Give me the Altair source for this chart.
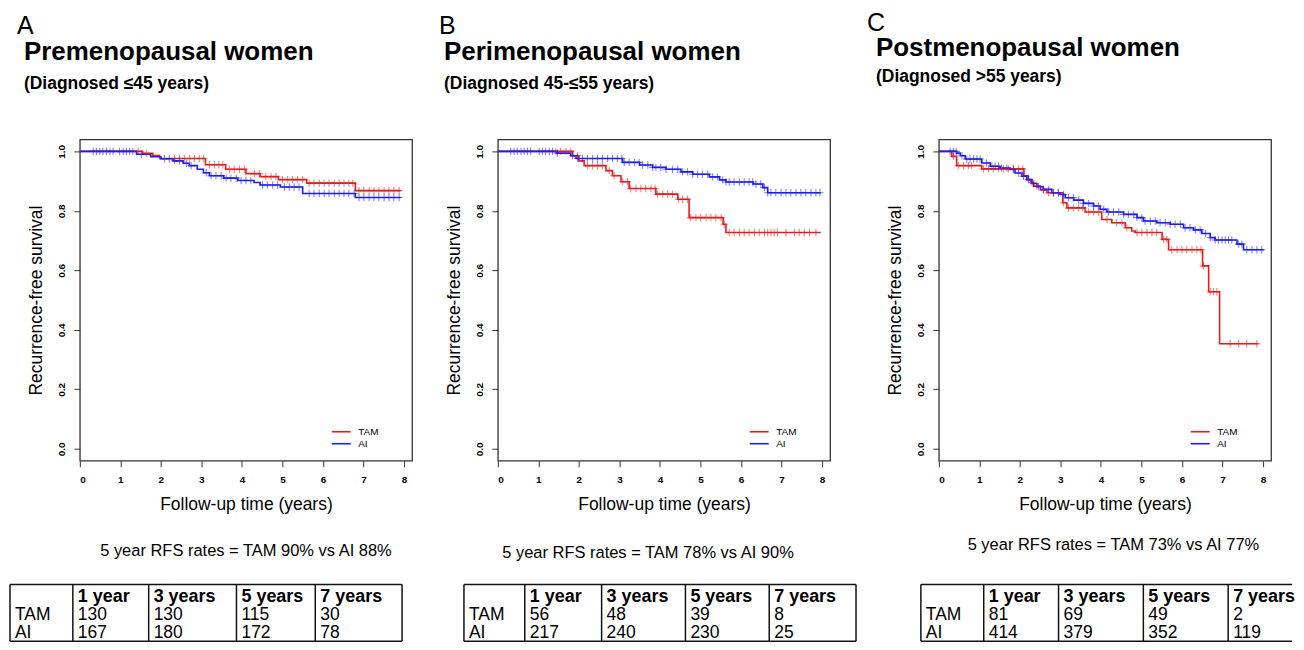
import altair as alt
import pandas as pd

FONT = "Liberation Sans"
ARMS = ["TAM", "AI"]
COLORS = ["#e41e1e", "#1e1ef2"]
CROSS = "M-1,0L1,0M0,-1L0,1"
LEGEND_LINE = "M-2,0L2,0"

# ---------------- Panel A: premenopausal ----------------
A_TAM_t = [0, 1.55, 1.8, 1.97, 3.1, 3.6, 4.1, 4.45, 4.9, 5.6, 6.8, 7.92]
A_TAM_s = [1.0, 0.993, 0.986, 0.976, 0.955, 0.94, 0.925, 0.915, 0.905, 0.893, 0.868, 0.868]
A_TAM_cens = [1.44, 1.64, 2.34, 2.46, 2.58, 2.71, 2.83, 2.95, 3.05, 3.2, 3.32, 3.43, 3.53, 3.69,
              3.81, 3.94, 4.06, 4.31, 4.43, 4.59, 4.72, 4.84, 5.0, 5.13, 5.25, 5.37, 5.5, 5.66,
              5.78, 5.91, 6.03, 6.15, 6.28, 6.4, 6.52, 6.64, 6.74, 6.89, 7.01, 7.14, 7.26, 7.38,
              7.51, 7.63, 7.75, 7.88]
A_AI_t = [0, 1.4, 1.75, 2.0, 2.3, 2.55, 2.7, 2.9, 3.05, 3.2, 3.55, 3.9, 4.3, 4.45, 4.95, 5.5, 6.8, 7.92]
A_AI_s = [1.0, 0.99, 0.982, 0.975, 0.968, 0.96, 0.952, 0.94, 0.928, 0.918, 0.91, 0.902, 0.895,
          0.887, 0.88, 0.858, 0.845, 0.845]
A_AI_cens = [0.33, 0.41, 0.49, 0.57, 0.66, 0.74, 0.82, 0.98, 1.07, 1.15, 1.23, 1.31, 1.52, 2.09,
             2.21, 2.34, 2.46, 2.63, 2.75, 3.12, 3.24, 3.36, 3.49, 3.61, 3.73, 3.86, 3.98, 4.1,
             4.22, 4.51, 4.63, 4.76, 4.88, 5.05, 5.17, 5.29, 5.41, 5.66, 5.78, 5.91, 6.03, 6.15,
             6.28, 6.4, 6.52, 6.64, 6.77, 6.89, 7.01, 7.14, 7.26, 7.38, 7.51, 7.63, 7.75, 7.88]

# ---------------- Panel B: perimenopausal ----------------
B_TAM_t = [0, 1.85, 2.0, 2.13, 2.67, 2.83, 3.04, 3.24, 3.9, 4.44, 4.72, 5.56, 5.63, 7.97]
B_TAM_s = [1.0, 0.985, 0.968, 0.952, 0.935, 0.918, 0.898, 0.875, 0.856, 0.839, 0.777, 0.755,
           0.727, 0.727]
B_TAM_cens = [1.43, 1.55, 1.68, 1.8, 1.97, 2.21, 2.34, 2.46, 2.58, 2.75, 2.87, 3.08, 3.2, 3.28,
              3.41, 3.53, 3.65, 3.78, 3.88, 3.94, 4.07, 4.19, 4.31, 4.46, 4.56, 4.68, 4.76, 4.89,
              5.01, 5.14, 5.26, 5.38, 5.51, 5.59, 5.71, 5.83, 5.96, 6.08, 6.2, 6.33, 6.45, 6.58,
              6.66, 6.74, 6.82, 6.9, 7.11, 7.32, 7.44, 7.56, 7.69, 7.85]
B_AI_t = [0, 1.45, 1.8, 1.93, 3.08, 3.5, 3.82, 4.15, 4.52, 4.81, 5.22, 5.47, 5.63, 6.3, 6.54, 6.66, 7.97]
B_AI_s = [1.0, 0.994, 0.985, 0.976, 0.963, 0.954, 0.946, 0.94, 0.931, 0.923, 0.914, 0.904, 0.897,
          0.89, 0.878, 0.861, 0.861]
B_AI_cens = [0.32, 0.4, 0.48, 0.57, 0.65, 0.73, 0.81, 1.02, 1.1, 1.18, 1.27, 1.35, 1.47, 1.84,
             1.97, 2.09, 2.21, 2.34, 2.46, 2.58, 2.71, 2.83, 2.95, 3.06, 3.12, 3.24, 3.37, 3.49,
             3.57, 3.7, 3.82, 3.9, 4.02, 4.15, 4.31, 4.44, 4.56, 4.68, 4.81, 4.93, 5.05, 5.18,
             5.3, 5.42, 5.55, 5.63, 5.71, 5.83, 5.96, 6.08, 6.2, 6.29, 6.37, 6.49, 6.58, 6.66,
             6.74, 6.86, 6.99, 7.11, 7.23, 7.36, 7.48, 7.6, 7.73, 7.85, 7.95]

# ---------------- Panel C: postmenopausal ----------------
C_TAM_t = [0, 0.32, 0.44, 1.06, 2.1, 2.21, 2.27, 2.34, 2.51, 2.67, 3.06, 3.16, 3.61, 4.02, 4.27,
           4.6, 4.76, 4.85, 5.51, 5.67, 6.51, 6.66, 6.93, 7.89]
C_TAM_s = [1.0, 0.983, 0.952, 0.941, 0.918, 0.905, 0.895, 0.883, 0.87, 0.861, 0.827, 0.81, 0.796,
           0.771, 0.76, 0.743, 0.732, 0.727, 0.704, 0.669, 0.615, 0.528, 0.353, 0.353]
C_TAM_cens = [0.36, 0.48, 0.61, 0.73, 0.81, 1.1, 1.23, 1.35, 1.47, 1.6, 1.72, 1.84, 1.97, 2.07,
              2.3, 2.42, 2.58, 2.71, 2.83, 2.95, 3.08, 3.2, 3.32, 3.45, 3.55, 3.7, 3.82, 3.94,
              4.15, 4.39, 4.52, 4.64, 4.89, 5.01, 5.14, 5.26, 5.38, 5.55, 5.63, 5.75, 5.88, 6.0,
              6.12, 6.25, 6.37, 6.47, 6.53, 6.7, 6.78, 6.86, 7.19, 7.4, 7.6, 7.85]
C_AI_t = [0, 0.44, 0.53, 0.65, 1.06, 1.27, 1.51, 1.76, 1.88, 2.05, 2.17, 2.3, 2.42, 2.58, 2.79,
          2.99, 3.12, 3.33, 3.57, 3.82, 3.98, 4.15, 4.56, 4.89, 5.05, 5.38, 5.71, 6.04, 6.29,
          6.49, 6.7, 6.82, 7.36, 7.52, 8.02]
C_AI_s = [1.0, 0.994, 0.985, 0.974, 0.961, 0.95, 0.944, 0.939, 0.927, 0.916, 0.905, 0.892, 0.881,
          0.872, 0.861, 0.855, 0.844, 0.836, 0.825, 0.816, 0.805, 0.796, 0.788, 0.777, 0.766,
          0.76, 0.755, 0.743, 0.736, 0.724, 0.71, 0.702, 0.688, 0.669, 0.669]
C_AI_cens = [0.28, 0.36, 0.43, 0.57, 0.69, 0.77, 0.86, 0.94, 1.02, 1.18, 1.31, 1.39, 1.47, 1.55,
             1.68, 1.84, 1.97, 2.09, 2.21, 2.34, 2.46, 2.58, 2.71, 2.83, 2.95, 3.08, 3.2, 3.32,
             3.45, 3.57, 3.7, 3.82, 3.94, 4.07, 4.19, 4.31, 4.44, 4.56, 4.68, 4.81, 4.89, 5.01,
             5.09, 5.22, 5.34, 5.46, 5.59, 5.71, 5.83, 5.96, 6.08, 6.2, 6.33, 6.45, 6.58, 6.7,
             6.82, 6.9, 6.99, 7.07, 7.15, 7.23, 7.4, 7.48, 7.6, 7.73, 7.85, 7.97]

# ---------------- texts and tables ----------------
LETTERS = ["A", "B", "C"]
TITLES = ["Premenopausal women", "Perimenopausal women", "Postmenopausal women"]
SUBTITLES = ["(Diagnosed \u226445 years)", "(Diagnosed 45-\u226455 years)", "(Diagnosed >55 years)"]
RFS = ["5 year RFS rates = TAM 90% vs AI 88%",
       "5 year RFS rates = TAM 78% vs AI 90%",
       "5 year RFS rates = TAM 73% vs AI 77%"]
TABLE_HEAD = ["1 year", "3 years", "5 years", "7 years"]
ROW_LABELS = ["TAM", "AI"]
A_TAM_n = [130, 130, 115, 30]
A_AI_n = [167, 180, 172, 78]
B_TAM_n = [56, 48, 39, 8]
B_AI_n = [217, 240, 230, 25]
C_TAM_n = [81, 69, 49, 2]
C_AI_n = [414, 379, 352, 119]

X_TICKS = [0, 1, 2, 3, 4, 5, 6, 7, 8]
Y_TICKS = [0.0, 0.2, 0.4, 0.6, 0.8, 1.0]


def surv_at(ts, ss, t):
    val = ss[0]
    for ti, si in zip(ts, ss):
        if ti <= t:
            val = si
    return val


def km_frames(tam_t, tam_s, tam_c, ai_t, ai_s, ai_c):
    lines, cens = [], []
    for arm, ts, ss, cs in (("TAM", tam_t, tam_s, tam_c), ("AI", ai_t, ai_s, ai_c)):
        for t, s in zip(ts, ss):
            lines.append({"t": t, "s": s, "arm": arm})
        for c in cs:
            cens.append({"t": c, "s": surv_at(ts, ss, c), "arm": arm})
    return pd.DataFrame(lines), pd.DataFrame(cens)


def km_chart(i, frames, title_dx, title_offset, sub_pad):
    line_df, cens_df = frames
    xenc = alt.X("t:Q", scale=alt.Scale(domain=[0, 8.2], nice=False, zero=False),
                 axis=alt.Axis(values=X_TICKS, format="d", labelFontWeight="bold", labelFontSize=10,
                               labelPadding=8, tickSize=6, tickColor="#333", domain=False,
                               grid=False, labelColor="black", title="Follow-up time (years)",
                               titleFontSize=17.5, titleFontWeight="normal", titlePadding=11,
                               titleColor="black"))
    yenc = alt.Y("s:Q", scale=alt.Scale(domain=[-0.04, 1.04], nice=False, zero=False),
                 axis=alt.Axis(values=Y_TICKS, format=".1f", labelAngle=270, labelAlign="center",
                               labelBaseline="bottom", labelFontWeight="bold", labelFontSize=10,
                               labelPadding=7, tickSize=6, tickColor="#333", domain=False,
                               grid=False, labelColor="black", title="Recurrence-free survival",
                               titleFontSize=17.5, titleFontWeight="normal", titlePadding=11,
                               titleColor="black"))
    legend = alt.Legend(orient="none", legendX=256, legendY=287, title=None,
                        symbolType=LEGEND_LINE, symbolSize=90, symbolStrokeWidth=1.6,
                        symbolOpacity=1, labelFontSize=10, labelOffset=11, padding=0,
                        rowPadding=1, labelColor="black")
    cenc = alt.Color("arm:N", scale=alt.Scale(domain=ARMS, range=COLORS), legend=legend)
    lines = alt.Chart(line_df).mark_line(interpolate="step-after", strokeWidth=1.6).encode(
        x=xenc, y=yenc, color=cenc)
    crosses = alt.Chart(cens_df).mark_point(shape=CROSS, filled=False, size=55, strokeWidth=1.1,
                                            opacity=0.55).encode(x=xenc, y=yenc, color=cenc)
    return alt.layer(lines, crosses).properties(
        width=333, height=322,
        view=alt.ViewBackground(stroke="#333", strokeWidth=1.3),
        title=alt.TitleParams(text=TITLES[i], subtitle=SUBTITLES[i], anchor="start",
                              frame="group", dx=title_dx, offset=title_offset, fontSize=26,
                              fontWeight="bold", color="black",
                              subtitleFontSize=17.5, subtitleFontWeight="bold",
                              subtitleColor="black", subtitlePadding=sub_pad))


def table_chart(i, tam_n, ai_n, width, edges, title_dx, title_offset):
    head = [{"x": edges[k + 1], "r": 0.5, "txt": TABLE_HEAD[k]} for k in range(4)]
    tam_row = [{"x": edges[0], "r": 1.5, "txt": ROW_LABELS[0]}] + [
        {"x": edges[k + 1], "r": 1.5, "txt": str(tam_n[k])} for k in range(4)]
    ai_row = [{"x": edges[0], "r": 2.5, "txt": ROW_LABELS[1]}] + [
        {"x": edges[k + 1], "r": 2.5, "txt": str(ai_n[k])} for k in range(4)]
    xs = alt.Scale(domain=[0, width], nice=False, zero=False)
    ys = alt.Scale(domain=[0, 3], nice=False, zero=False, reverse=True)
    xe = alt.X("x:Q", scale=xs, axis=None)
    ye = alt.Y("r:Q", scale=ys, axis=None)
    vlines = alt.Chart(pd.DataFrame({"x": edges})).mark_rule(color="#111", strokeWidth=1.5).encode(
        x=xe)
    hlines = alt.Chart(pd.DataFrame({"r": [0, 3]})).mark_rule(color="#111", strokeWidth=1.5).encode(
        y=ye)
    htext = alt.Chart(pd.DataFrame(head)).mark_text(align="left", baseline="middle", dx=5, dy=3.5,
                                                    fontSize=18, fontWeight="bold",
                                                    color="black").encode(x=xe, y=ye, text="txt:N")
    ttext = alt.Chart(pd.DataFrame(tam_row)).mark_text(align="left", baseline="middle", dx=5,
                                                       dy=2.5, fontSize=17.5,
                                                       color="black").encode(x=xe, y=ye,
                                                                             text="txt:N")
    atext = alt.Chart(pd.DataFrame(ai_row)).mark_text(align="left", baseline="middle", dx=5,
                                                      dy=1.5, fontSize=17.5,
                                                      color="black").encode(x=xe, y=ye,
                                                                            text="txt:N")
    return alt.layer(vlines, hlines, htext, ttext, atext).properties(
        width=width, height=57,
        title=alt.TitleParams(text=RFS[i], anchor="middle", frame="group", dx=title_dx,
                              offset=title_offset, fontSize=16.5, fontWeight="normal",
                              color="black"))


def spacer(w, h=1):
    return alt.Chart(pd.DataFrame({"v": [0]})).mark_point(opacity=0, size=1).properties(
        width=w, height=h)


def letter(i, offset):
    return spacer(1).properties(title=alt.TitleParams(
        text=LETTERS[i], orient="bottom", anchor="start", frame="group", offset=offset,
        fontSize=25, fontWeight="normal", color="black"))


kmA = km_chart(0, km_frames(A_TAM_t, A_TAM_s, A_TAM_cens, A_AI_t, A_AI_s, A_AI_cens), -56, 47, 10)
kmB = km_chart(1, km_frames(B_TAM_t, B_TAM_s, B_TAM_cens, B_AI_t, B_AI_s, B_AI_cens), -54, 47, 10)
kmC = km_chart(2, km_frames(C_TAM_t, C_TAM_s, C_TAM_cens, C_AI_t, C_AI_s, C_AI_cens), -63, 54, 7)

tabA = table_chart(0, A_TAM_n, A_AI_n, 393, [0, 63, 139, 227, 306, 393], 40, 24)
tabB = table_chart(1, B_TAM_n, B_AI_n, 393, [0, 61, 138, 222, 306, 393], -12, 22)
tabC = table_chart(2, C_TAM_n, C_AI_n, 372, [0, 63, 138, 223, 308], 7, 30)

row0 = alt.hconcat(spacer(7), letter(0, 0), spacer(422), letter(1, 0), spacer(428), letter(2, -3),
                   spacing=0, bounds="flush")
row1 = alt.hconcat(spacer(70), kmA, spacer(86), kmB, spacer(109), kmC,
                   spacing=0, bounds="flush").resolve_scale(color="independent").resolve_legend(
    color="independent")
row2 = alt.hconcat(tabA, spacer(62), tabB, spacer(65), tabC, spacing=0, bounds="flush")

top = alt.vconcat(row0, row1, spacing=-5).resolve_scale(color="independent").resolve_legend(
    color="independent")

chart = alt.vconcat(top, row2, spacing=22).properties(
    padding={"top": 2, "left": 0, "right": 0, "bottom": 0},
).resolve_scale(color="independent").resolve_legend(color="independent").configure(
    font=FONT).configure_view(stroke="transparent")

chart.save("out.html", embed_options={"renderer": "svg", "actions": False})
